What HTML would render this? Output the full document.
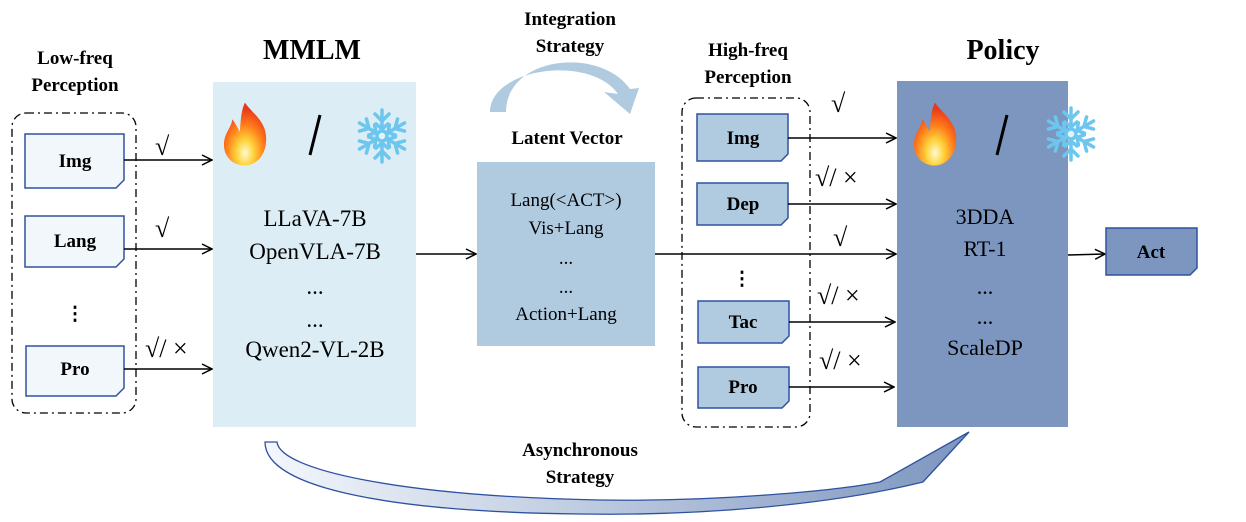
<!DOCTYPE html>
<html><head><meta charset="utf-8"><style>
html,body{margin:0;padding:0;background:#fff}
svg text{font-family:"Liberation Serif",serif}
.b{font-weight:bold}
</style></head><body>
<svg width="1246" height="517" viewBox="0 0 1246 517" xmlns="http://www.w3.org/2000/svg">
<defs>
<marker id="ar" markerWidth="12" markerHeight="12" refX="11" refY="6" orient="auto" markerUnits="userSpaceOnUse">
<path d="M1,1 L11,6 L1,11" fill="none" stroke="#000" stroke-width="1.5"/></marker>
<linearGradient id="ag" x1="0" x2="1"><stop offset="0" stop-color="#f4f7fc"/><stop offset="1" stop-color="#7d96bf"/></linearGradient>
<radialGradient id="fg" cx="0.5" cy="0.8" r="0.7"><stop offset="0" stop-color="#fffbd0"/><stop offset="0.3" stop-color="#ffd23a"/><stop offset="0.65" stop-color="#ff7a1a"/><stop offset="1" stop-color="#e83a1a"/></radialGradient>
<g id="fire"><path d="M0,-30 C6,-20 22,-12 20,8 C19,22 9,30 0,30 C-12,30 -21,21 -20,8 C-19,-2 -13,-6 -12,-14 C-8,-8 -6,-4 -5,-2 C-4,-12 -4,-22 0,-30 Z" fill="url(#fg)"/></g>
<g id="snow" stroke="#6cc6ee" stroke-width="3.5" stroke-linecap="round" fill="none">
<g id="arm"><line x1="0" y1="0" x2="0" y2="-26"/><path d="M-7,-22 L0,-15 L7,-22 M-6,-12 L0,-7 L6,-12"/></g>
<use href="#arm" transform="rotate(60)"/><use href="#arm" transform="rotate(120)"/><use href="#arm" transform="rotate(180)"/><use href="#arm" transform="rotate(240)"/><use href="#arm" transform="rotate(300)"/>
<circle r="5" fill="#dff4fc"/></g>
</defs>

<text x="75" y="64" font-size="19" class="b" text-anchor="middle">Low-freq</text>
<text x="75" y="91" font-size="19" class="b" text-anchor="middle">Perception</text>
<text x="312" y="59" font-size="28" class="b" text-anchor="middle">MMLM</text>
<text x="570" y="25" font-size="19" class="b" text-anchor="middle">Integration</text>
<text x="570" y="52" font-size="19" class="b" text-anchor="middle">Strategy</text>
<text x="748" y="56" font-size="19" class="b" text-anchor="middle">High-freq</text>
<text x="748" y="83" font-size="19" class="b" text-anchor="middle">Perception</text>
<text x="1003" y="59" font-size="28" class="b" text-anchor="middle">Policy</text>
<text x="567" y="144" font-size="19" class="b" text-anchor="middle">Latent Vector</text>
<text x="580" y="456" font-size="19" class="b" text-anchor="middle">Asynchronous</text>
<text x="580" y="483" font-size="19" class="b" text-anchor="middle">Strategy</text>

<path d="M490,112 C490,68 590,54 618,94 L604,92 L630,114 L639,88 L630,89 C600,46 506,56 506,112 Z" fill="#b0cbe0"/>

<rect x="213" y="82" width="203" height="345" fill="#dcedf5"/>
<use href="#fire" transform="translate(245,134) scale(1.05)"/>
<line x1="320" y1="115" x2="310" y2="155" stroke="#000" stroke-width="3"/>
<use href="#snow" transform="translate(382,136)"/>
<g font-size="23" text-anchor="middle">
<text x="315" y="226">LLaVA-7B</text><text x="315" y="259">OpenVLA-7B</text>
<text x="315" y="294">...</text><text x="315" y="327">...</text><text x="315" y="357">Qwen2-VL-2B</text></g>

<rect x="12" y="113" width="124" height="300" rx="14" fill="none" stroke="#000" stroke-width="1.3" stroke-dasharray="8,4,2,4"/>
<g stroke="#2f52a0" stroke-width="1.5" fill="#f2f7fb">
<path d="M25,134 H124 V180 L116,188 H25 Z"/><path d="M25,216 H124 V259 L116,267 H25 Z"/><path d="M26,346 H124 V388 L116,396 H26 Z"/></g>
<g font-size="19" class="b" text-anchor="middle"><text x="75" y="167">Img</text><text x="75" y="247">Lang</text><text x="75" y="375">Pro</text></g>
<text x="75" y="320" font-size="19" class="b" text-anchor="middle">⋮</text>
<g stroke="#000" stroke-width="1.5" marker-end="url(#ar)">
<line x1="124" y1="160" x2="212" y2="160"/><line x1="124" y1="249" x2="212" y2="249"/><line x1="124" y1="369" x2="212" y2="369"/></g>
<g font-size="26"><text x="155" y="155">√</text><text x="155" y="237">√</text><text x="145" y="357">√/ ×</text></g>

<rect x="477" y="162" width="178" height="184" fill="#b0cbe0"/>
<g font-size="19" text-anchor="middle"><text x="566" y="206">Lang(&lt;ACT&gt;)</text><text x="566" y="234">Vis+Lang</text><text x="566" y="264">...</text><text x="566" y="293">...</text><text x="566" y="320">Action+Lang</text></g>
<line x1="416" y1="254" x2="476" y2="254" stroke="#000" stroke-width="1.5" marker-end="url(#ar)"/>
<line x1="655" y1="254" x2="896" y2="254" stroke="#000" stroke-width="1.5" marker-end="url(#ar)"/>

<rect x="682" y="98" width="128" height="329" rx="14" fill="none" stroke="#000" stroke-width="1.3" stroke-dasharray="8,4,2,4"/>
<g stroke="#2f52a0" stroke-width="1.5" fill="#b0cbe0">
<path d="M697,114 H788 V154 L781,161 H697 Z"/><path d="M697,183 H788 V218 L781,225 H697 Z"/><path d="M698,301 H789 V336 L782,343 H698 Z"/><path d="M698,367 H789 V401 L782,408 H698 Z"/></g>
<g font-size="19" class="b" text-anchor="middle"><text x="743" y="144">Img</text><text x="743" y="210">Dep</text><text x="743" y="328">Tac</text><text x="743" y="393">Pro</text><text x="742" y="285">⋮</text></g>
<g stroke="#000" stroke-width="1.5" marker-end="url(#ar)">
<line x1="788" y1="138" x2="896" y2="138"/><line x1="788" y1="204" x2="896" y2="204"/><line x1="789" y1="322" x2="895" y2="322"/><line x1="789" y1="387" x2="894" y2="387"/></g>
<g font-size="26"><text x="831" y="112">√</text><text x="815" y="186">√/ ×</text><text x="833" y="246">√</text><text x="817" y="304">√/ ×</text><text x="819" y="369">√/ ×</text></g>

<rect x="897" y="81" width="171" height="346" fill="#7d96bf"/>
<use href="#fire" transform="translate(935,134) scale(1.05)"/>
<line x1="1007" y1="115" x2="997" y2="155" stroke="#000" stroke-width="3"/>
<use href="#snow" transform="translate(1071,134)"/>
<g font-size="22" text-anchor="middle"><text x="985" y="224">3DDA</text><text x="985" y="256">RT-1</text><text x="985" y="294">...</text><text x="985" y="324">...</text><text x="985" y="355">ScaleDP</text></g>
<line x1="1068" y1="255" x2="1105" y2="254" stroke="#000" stroke-width="1.5" marker-end="url(#ar)"/>
<path d="M1106,228 H1197 V268 L1190,275 H1106 Z" fill="#7d96bf" stroke="#2f52a0" stroke-width="1.5"/>
<text x="1151" y="258" font-size="19" class="b" text-anchor="middle">Act</text>

<path d="M265,442 L277,442 C280,470 400,496 600,500 C720,502 840,490 880,482 L969,432 L923,482 C830,505 700,516 580,514 C400,512 265,490 265,442 Z" fill="url(#ag)" stroke="#2f52a0" stroke-width="1.3"/>
</svg>
</body></html>
